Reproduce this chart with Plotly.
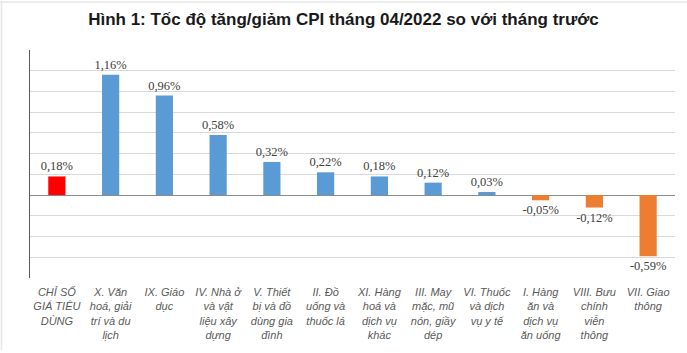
import plotly.graph_objects as go

categories = [
    "CHỈ SỐ<br>GIÁ TIÊU<br>DÙNG",
    "X. Văn<br>hoá, giải<br>trí và du<br>lịch",
    "IX. Giáo<br>dục",
    "IV. Nhà ở<br>và vật<br>liệu xây<br>dựng",
    "V. Thiết<br>bị và đồ<br>dùng gia<br>đình",
    "II. Đồ<br>uống và<br>thuốc lá",
    "XI. Hàng<br>hoá và<br>dịch vụ<br>khác",
    "III. May<br>mặc, mũ<br>nón, giầy<br>dép",
    "VI. Thuốc<br>và dịch<br>vụ y tế",
    "I. Hàng<br>ăn và<br>dịch vụ<br>ăn uống",
    "VIII. Bưu<br>chính<br>viễn<br>thông",
    "VII. Giao<br>thông",
]
values = [0.18, 1.16, 0.96, 0.58, 0.32, 0.22, 0.18, 0.12, 0.03, -0.05, -0.12, -0.59]

RED = "#FF0000"
BLUE = "#5B9BD5"
ORANGE = "#ED7D31"
colors = [RED] + [BLUE if v >= 0 else ORANGE for v in values[1:]]
labels = [f"{v:.2f}%".replace(".", ",") for v in values]
ticktext = [f"<i>{c}</i>" for c in categories]

W, H = 687, 353
ML, MR, MT, MB = 30, 12, 50, 73
PW, PH = W - ML - MR, H - MT - MB

fig = go.Figure(
    go.Bar(
        x=list(range(len(categories))),
        y=values,
        marker=dict(color=colors, line=dict(width=0)),
        text=labels,
        textposition="outside",
        constraintext="none",
        textfont=dict(family="Liberation Serif", size=12.5, color="#404040"),
        cliponaxis=False,
        width=0.32,
    )
)

# faint frame lines along the top and left edges of the image
fig.add_shape(type="line", xref="paper", yref="paper",
              x0=-ML / PW, x1=1 + MR / PW, y0=1 + (MT - 1.5) / PH, y1=1 + (MT - 1.5) / PH,
              line=dict(color="#E6E6E6", width=1.5))
fig.add_shape(type="line", xref="paper", yref="paper",
              x0=-(ML - 1.5) / PW, x1=-(ML - 1.5) / PW, y0=-MB / PH, y1=1 + MT / PH,
              line=dict(color="#E6E6E6", width=1.5))

fig.update_layout(
    width=W,
    height=H,
    margin=dict(l=ML, r=MR, t=MT, b=MB),
    paper_bgcolor="white",
    plot_bgcolor="white",
    showlegend=False,
    title=dict(
        text="<b>Hình 1: Tốc độ tăng/giảm CPI tháng 04/2022 so với tháng trước</b>",
        x=0.5,
        xanchor="center",
        y=0.945,
        yanchor="middle",
        font=dict(family="Liberation Sans", size=17, color="#1a1a1a"),
    ),
    xaxis=dict(
        tickmode="array",
        tickvals=list(range(len(categories))),
        ticktext=ticktext,
        tickangle=0,
        tickfont=dict(family="Liberation Sans", size=11, color="#595959"),
        ticklabelstandoff=6,
        showgrid=False,
        showline=False,
        ticks="",
        range=[-0.5, len(categories) - 0.5],
    ),
    yaxis=dict(
        range=[-0.8, 1.4],
        dtick=0.2,
        showticklabels=False,
        showgrid=True,
        gridcolor="#D9D9D9",
        gridwidth=1,
        zeroline=True,
        zerolinecolor="#8C8C8C",
        zerolinewidth=1,
        showline=True,
        linecolor="#595959",
        linewidth=1,
        ticks="",
    ),
)

fig.write_html("out.html")
